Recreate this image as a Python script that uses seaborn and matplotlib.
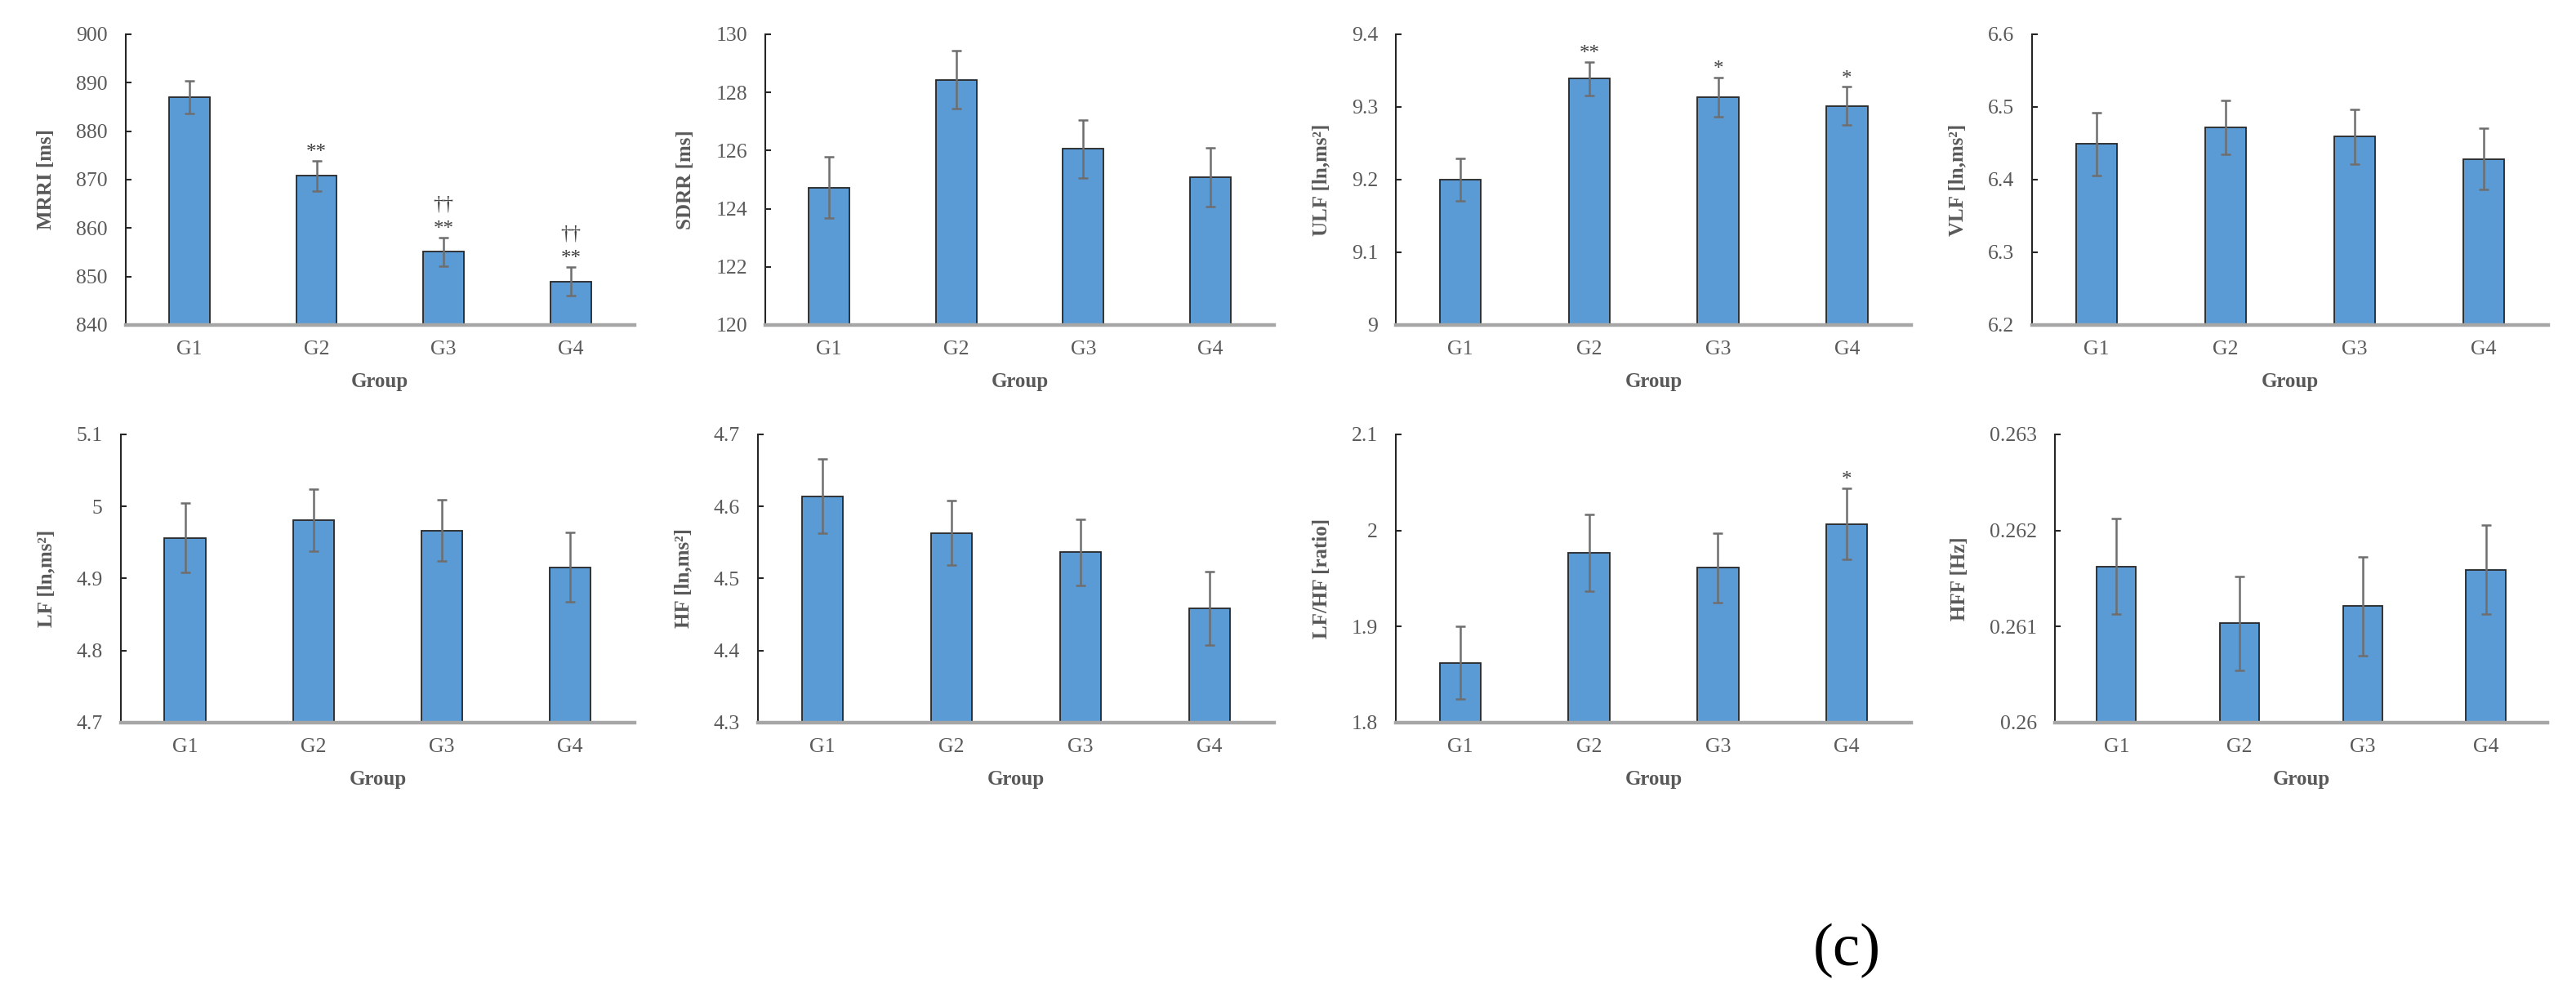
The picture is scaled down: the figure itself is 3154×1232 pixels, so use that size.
import numpy as np
import matplotlib
matplotlib.use('Agg')
import matplotlib.pyplot as plt
import seaborn as sns

sns.set_style('white')
plt.rcParams['font.family'] = ['Liberation Serif', 'DejaVu Serif']

groups = ['G1', 'G2', 'G3', 'G4']

mrri_mean = [887.0, 870.8, 855.1, 849.0]
mrri_err = [3.3, 3.1, 3.0, 3.0]
sdrr_mean = [124.73, 128.43, 126.06, 125.08]
sdrr_err = [1.06, 1.0, 1.0, 1.0]
ulf_mean = [9.200, 9.339, 9.3135, 9.3015]
ulf_err = [0.029, 0.023, 0.027, 0.026]
vlf_mean = [6.449, 6.472, 6.459, 6.4285]
vlf_err = [0.043, 0.037, 0.038, 0.042]
lf_mean = [4.9566, 4.981, 4.9668, 4.9158]
lf_err = [0.048, 0.043, 0.043, 0.048]
hf_mean = [4.6143, 4.5634, 4.5366, 4.4585]
hf_err = [0.052, 0.045, 0.046, 0.051]
lfhf_mean = [1.8622, 1.9769, 1.9613, 2.0069]
lfhf_err = [0.038, 0.040, 0.036, 0.037]
hff_mean = [0.261627, 0.261033, 0.261211, 0.261593]
hff_err = [0.000497, 0.000491, 0.000513, 0.000464]

# significance marks (vs G1: *, **; vs G2: ††)
mrri_star = ['', '**', '**', '**']
mrri_dag = ['', '', '††', '††']
ulf_star = ['', '**', '*', '*']
lfhf_star = ['', '', '', '*']
none4 = ['', '', '', '']

mrri_ticks = ['840', '850', '860', '870', '880', '890', '900']
sdrr_ticks = ['120', '122', '124', '126', '128', '130']
ulf_ticks = ['9', '9.1', '9.2', '9.3', '9.4']
vlf_ticks = ['6.2', '6.3', '6.4', '6.5', '6.6']
lf_ticks = ['4.7', '4.8', '4.9', '5', '5.1']
hf_ticks = ['4.3', '4.4', '4.5', '4.6', '4.7']
lfhf_ticks = ['1.8', '1.9', '2', '2.1']
hff_ticks = ['0.26', '0.261', '0.262', '0.263']

panels = [
    ('MRRI [ms]', mrri_mean, mrri_err, mrri_ticks, mrri_star, mrri_dag),
    ('SDRR [ms]', sdrr_mean, sdrr_err, sdrr_ticks, none4, none4),
    ('ULF [ln,ms²]', ulf_mean, ulf_err, ulf_ticks, ulf_star, none4),
    ('VLF [ln,ms²]', vlf_mean, vlf_err, vlf_ticks, none4, none4),
    ('LF [ln,ms²]', lf_mean, lf_err, lf_ticks, none4, none4),
    ('HF [ln,ms²]', hf_mean, hf_err, hf_ticks, none4, none4),
    ('LF/HF [ratio]', lfhf_mean, lfhf_err, lfhf_ticks, lfhf_star, none4),
    ('HFF [Hz]', hff_mean, hff_err, hff_ticks, none4, none4),
]

# axes boxes in figure fraction [left, bottom, width, height]
boxes = [
    [0.0488, 0.677, 0.1975, 0.289],
    [0.2971, 0.677, 0.1975, 0.289],
    [0.5419, 0.677, 0.2001, 0.289],
    [0.7888, 0.677, 0.2004, 0.289],
    [0.0469, 0.2817, 0.1994, 0.2865],
    [0.2942, 0.2817, 0.2004, 0.2865],
    [0.5419, 0.2817, 0.2000, 0.2865],
    [0.7977, 0.2817, 0.1912, 0.2865],
]

grey = '#595959'
fig = plt.figure(figsize=(31.54, 12.32), dpi=100)

for (label, mean, err, ticks, star, dag), box in zip(panels, boxes):
    ax = fig.add_axes(box)
    sns.barplot(x=groups, y=mean, ax=ax, color='#5B9BD5', saturation=1,
                width=0.32, edgecolor='#262626', linewidth=1.3, errorbar=None)
    ax.errorbar(np.arange(4), mean, yerr=err, fmt='none', ecolor='#6e6e6e',
                elinewidth=1.8, capsize=4, capthick=1.8, zorder=3)
    tv = [float(t) for t in ticks]
    ax.set_ylim(tv[0], tv[-1])
    ax.set_yticks(tv)
    ax.set_yticklabels(ticks)
    ax.set_xlim(-0.5, 3.5)
    for i in range(4):
        top = mean[i] + err[i]
        if star[i]:
            ax.annotate(star[i], xy=(i, top), xytext=(0, 7), textcoords='offset points',
                        ha='center', va='center', fontsize=18, color='#404040')
        if dag[i]:
            ax.annotate(dag[i], xy=(i, top), xytext=(0, 29), textcoords='offset points',
                        ha='center', va='center', fontsize=18, color='#404040')
    sns.despine(ax=ax)
    ax.spines['left'].set_color('#262626')
    ax.spines['left'].set_linewidth(1.5)
    ax.spines['bottom'].set_color('#A6A6A6')
    ax.spines['bottom'].set_linewidth(3.2)
    ax.tick_params(axis='y', direction='in', length=5, width=1.5, color='#262626',
                   labelcolor=grey, labelsize=18.5, pad=16, left=True)
    ax.tick_params(axis='x', length=0, labelcolor=grey, labelsize=18.5, pad=14)
    ax.set_ylabel(label, fontsize=18, fontweight='bold', color=grey, labelpad=18)
    ax.set_xlabel('Group', fontsize=18, fontweight='bold', color=grey, labelpad=12)

fig.text(0.717, 0.055, '(c)', fontsize=54, ha='center', va='center', color='black')

fig.savefig('out.png', dpi=100)
